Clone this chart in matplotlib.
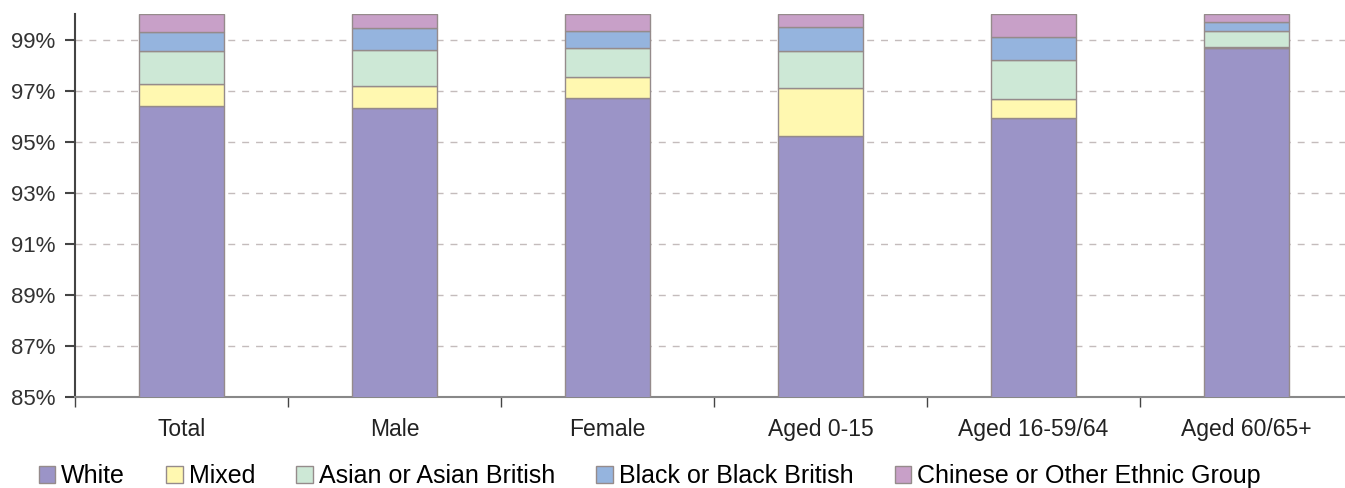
import numpy as np
import matplotlib
matplotlib.use('Agg')
import matplotlib.pyplot as plt
from matplotlib.ticker import FixedLocator

plt.rcParams['font.family'] = ['Liberation Sans', 'DejaVu Sans']

categories = ["Total", "Male", "Female", "Aged 0-15", "Aged 16-59/64", "Aged 60/65+"]
series_names = ["White", "Mixed", "Asian or Asian British", "Black or Black British",
                "Chinese or Other Ethnic Group"]
white = [96.41, 96.31, 96.70, 95.21, 95.93, 98.68]
mixed = [0.86, 0.87, 0.82, 1.90, 0.74, 0.03]
asian = [1.29, 1.40, 1.15, 1.43, 1.51, 0.64]
black = [0.75, 0.89, 0.66, 0.97, 0.91, 0.32]
chinese = [0.69, 0.53, 0.67, 0.49, 0.91, 0.33]
yticks = [85, 87, 89, 91, 93, 95, 97, 99]

colors = ["#9B94C7", "#FFF8B0", "#CDE8D6", "#95B4DE", "#C8A0C8"]

fig = plt.figure(figsize=(13.45, 4.88), dpi=100)
ax = fig.add_axes([75 / 1345, 1 - 397 / 488, 1278 / 1345, 383 / 488])

x = np.arange(len(categories))
bottom = np.zeros(len(categories))
handles = []
for vals, name, col in zip([white, mixed, asian, black, chinese], series_names, colors):
    b = ax.bar(x, vals, width=0.4, bottom=bottom, color=col, edgecolor="#958b8b",
               linewidth=1.0, label=name, zorder=3)
    handles.append(b)
    bottom += np.array(vals)

ax.set_xlim(-0.5, len(categories) - 0.5)
ax.set_ylim(85, 100)
ax.set_yticks(yticks)
ax.set_yticklabels([f"{t}%" for t in yticks], fontsize=16, color="#333333")
for t in yticks[1:]:
    ax.axhline(t, color="#c4bcbc", linestyle=(0, (5, 5)), linewidth=1, zorder=1)

ax.set_xticks(x)
ax.set_xticklabels(categories, fontsize=16.5, color="#222222")
ax.tick_params(axis='x', which='major', length=0, pad=15)
ax.xaxis.set_minor_locator(FixedLocator(np.arange(-0.5, len(categories) - 0.5, 1)))
ax.tick_params(axis='x', which='minor', length=7, width=1, color="#444444")
ax.tick_params(axis='y', length=7, width=1.5, color="#444444", pad=7)

for s in ["top", "right"]:
    ax.spines[s].set_visible(False)
ax.spines["left"].set_color("#444444")
ax.spines["left"].set_linewidth(1.5)
ax.spines["bottom"].set_color("#888888")
ax.spines["bottom"].set_linewidth(1.5)

fig.legend(handles=handles, labels=series_names, loc="center left",
           bbox_to_anchor=(0.012, 1 - 476 / 488), ncol=5, frameon=False, fontsize=18,
           handlelength=0.65, handleheight=0.65, handletextpad=0.25, columnspacing=1.65)

fig.savefig("out.png", dpi=100)
